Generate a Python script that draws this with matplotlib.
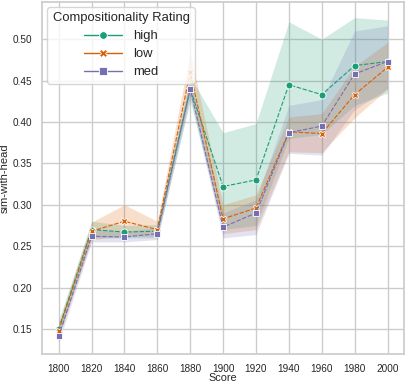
import matplotlib
matplotlib.use("Agg")
import matplotlib.pyplot as plt
from matplotlib.lines import Line2D
import seaborn as sns
import numpy as np

sns.set_theme(style="whitegrid")
plt.rcParams['font.family'] = ['Liberation Sans', 'DejaVu Sans']

years = [1800, 1820, 1840, 1860, 1880, 1900, 1920, 1940, 1960, 1980, 2000]
series_names = ["high", "low", "med"]

high_mean = [0.150, 0.270, 0.267, 0.268, 0.440, 0.322, 0.330, 0.445, 0.433, 0.468, 0.473]
high_lo   = [0.140, 0.260, 0.260, 0.260, 0.425, 0.270, 0.275, 0.380, 0.385, 0.420, 0.435]
high_hi   = [0.160, 0.280, 0.275, 0.276, 0.455, 0.387, 0.398, 0.521, 0.500, 0.526, 0.523]

low_mean = [0.148, 0.268, 0.280, 0.270, 0.460, 0.283, 0.296, 0.388, 0.386, 0.433, 0.466]
low_lo   = [0.140, 0.258, 0.262, 0.262, 0.435, 0.265, 0.270, 0.364, 0.363, 0.405, 0.440]
low_hi   = [0.157, 0.279, 0.300, 0.280, 0.485, 0.300, 0.312, 0.406, 0.410, 0.467, 0.496]

med_mean = [0.141, 0.262, 0.261, 0.265, 0.440, 0.273, 0.290, 0.387, 0.395, 0.458, 0.473]
med_lo   = [0.133, 0.255, 0.255, 0.258, 0.430, 0.260, 0.264, 0.362, 0.360, 0.415, 0.440]
med_hi   = [0.150, 0.270, 0.268, 0.272, 0.452, 0.290, 0.306, 0.420, 0.427, 0.510, 0.516]

means = [high_mean, low_mean, med_mean]
los = [high_lo, low_lo, med_lo]
his = [high_hi, low_hi, med_hi]
colors = ["#1b9e77", "#d95f02", "#7570b3"]
markers = ["o", "X", "s"]

fig, ax = plt.subplots(figsize=(4.06, 3.82), dpi=100)
handles = []
for name, m, lo, hi, c, mk in zip(series_names, means, los, his, colors, markers):
    ax.fill_between(years, lo, hi, color=c, alpha=0.2, linewidth=0)
    ax.plot(years, m, color=c, marker=mk, linestyle=(0, (4, 1.5)), linewidth=0.8,
            markersize=5, markeredgecolor="white", markeredgewidth=0.6)
    handles.append(Line2D([], [], color=c, marker=mk, linestyle="-", linewidth=1.0,
                          markersize=5.5, markeredgecolor="white", markeredgewidth=0.6,
                          label=name))

ax.set_xlim(1790, 2010)
ax.set_ylim(0.12, 0.545)
ax.set_xticks([1800, 1820, 1840, 1860, 1880, 1900, 1920, 1940, 1960, 1980, 2000])
ax.set_yticks([0.15, 0.20, 0.25, 0.30, 0.35, 0.40, 0.45, 0.50])
ax.set_yticklabels(["0.15", "0.20", "0.25", "0.30", "0.35", "0.40", "0.45", "0.50"])
ax.tick_params(axis="both", labelsize=7.2, pad=1.5)
ax.set_xlabel("Score", fontsize=7.8)
ax.set_ylabel("sim-with-head", fontsize=8)
ax.yaxis.set_label_coords(-0.09, 0.5)
ax.xaxis.set_label_coords(0.5, -0.054)
ax.xaxis.label.set_verticalalignment("top")
leg = ax.legend(handles=handles, title="Compositionality Rating", loc="upper left",
                fontsize=9.4, title_fontsize=9.4, frameon=True, handlelength=2.9,
                handletextpad=0.8, borderaxespad=0.4, labelspacing=0.45)
fig.subplots_adjust(left=0.104, right=0.995, top=0.995, bottom=0.074)
fig.savefig("out.png", dpi=100)
